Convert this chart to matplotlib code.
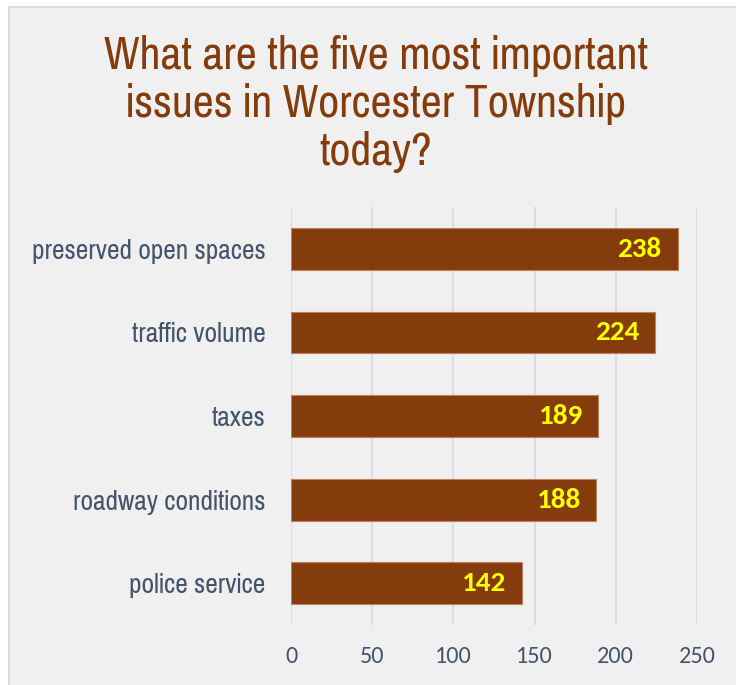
import matplotlib.pyplot as plt
from matplotlib.patches import Rectangle

categories = ["preserved open spaces", "traffic volume", "taxes",
              "roadway conditions", "police service"]
values = [238, 224, 189, 188, 142]
xticks = [0, 50, 100, 150, 200, 250]

brown = "#843C0C"
label_col = "#44546A"
narrow = ["Liberation Sans Narrow", "Pragati Narrow", "Archivo Narrow",
          "Roboto Condensed", "PT Sans Narrow", "DejaVu Sans"]
calib = ["Carlito", "Lato", "DejaVu Sans"]

fig = plt.figure(figsize=(7.36, 6.85), dpi=100)
fig.patch.set_facecolor("white")
# chart area panel with thin border
fig.patches.append(Rectangle((9 / 736, -0.01), 1.0, 1 - 7 / 685 + 0.01,
                             transform=fig.transFigure, facecolor="#F0F0F0",
                             edgecolor="#D9DEE5", linewidth=1.5, zorder=-5))

ax = fig.add_axes([291 / 736, 1 - 625 / 685, (697 - 291) / 736, (625 - 207) / 685])
ax.set_facecolor("none")
pos = list(range(len(categories)))
ax.barh(pos, values, height=0.5, color=brown, edgecolor="#C08060", linewidth=0.8, zorder=3)
for p, v in zip(pos, values):
    ax.text(v - 16 * 250 / 406, p, str(v), ha="right", va="center", color="#FFFF00",
            fontsize=21, fontweight="bold", family=calib, zorder=4)

ax.set_xlim(0, 250)
ax.set_ylim(len(categories) - 0.5, -0.5)
ax.set_xticks(xticks)
ax.set_yticks(pos)
ax.set_yticklabels(categories, family=narrow, fontsize=21.5, color=label_col)
ax.set_xticklabels([str(t) for t in xticks], family=calib, fontsize=17.5, color=label_col)
ax.tick_params(axis="both", length=0)
ax.tick_params(axis="x", pad=15)
ax.tick_params(axis="y", pad=18.5)
ax.grid(axis="x", color="#D9DEE5", linewidth=1.5, zorder=0)
for s in ax.spines.values():
    s.set_visible(False)

fig.text(0.5 + 8 / 736, 1 - 104 / 685, "What are the five most important\nissues in Worcester Township\ntoday?",
         ha="center", va="center", color=brown, fontsize=36, family=narrow, linespacing=1.17)

fig.savefig("out.png", dpi=100, facecolor=fig.get_facecolor())
